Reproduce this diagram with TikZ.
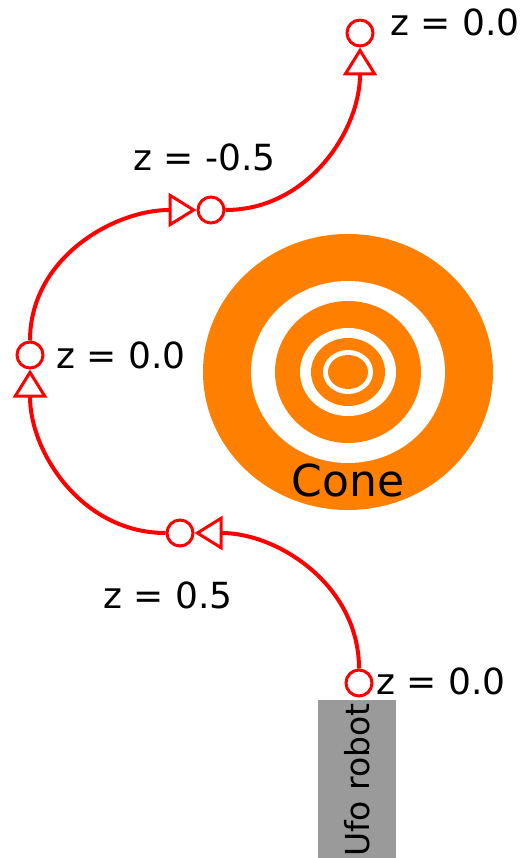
\documentclass[tikz,border=0pt]{standalone}
\usepackage{fontspec}
\setmainfont{DejaVu Sans}
\usetikzlibrary{arrows.meta}
\definecolor{conecol}{HTML}{FF7F00}
\definecolor{robotgray}{HTML}{9A9A9A}

\begin{document}
\begin{tikzpicture}[
  x=1pt, y=1pt,
  font=\fontsize{36}{40}\selectfont,
  wp/.style={draw=red, line width=3pt, circle, fill=white,
             minimum size=26pt, inner sep=0pt},
  zlabel/.style={anchor=west, inner sep=0pt},
  route/.style={draw=red, line width=4pt,
                -{Triangle[open, length=28pt, width=34pt, line width=3pt]}},
  robotbox/.style={fill=robotgray, minimum width=160pt, minimum height=78pt,
                   inner sep=0pt, font=\fontsize{33}{38}\selectfont},
]
\useasboundingbox (0,-858) rectangle (527,0);

% the cone, seen from above
\fill[conecol] (348,-372) ellipse [x radius=145pt, y radius=138pt];
\fill[white]   (348,-372) ellipse [x radius=97pt,  y radius=91pt];
\fill[conecol] (348,-372) ellipse [x radius=73pt,  y radius=71pt];
\fill[white]   (348,-372) ellipse [x radius=48pt,  y radius=44pt];
\fill[conecol] (348,-372) ellipse [x radius=37pt,  y radius=34pt];
\fill[white]   (348,-372) ellipse [x radius=25pt,  y radius=22pt];
\fill[conecol] (348,-372) ellipse [x radius=20pt,  y radius=17pt];
\node[font=\fontsize{44}{50}\selectfont, inner sep=0pt] (cone) at (348,-480) {Cone};

% robot
\node[robotbox, rotate=90] (robot) at (357,-780) {Ufo robot};

% waypoints
\node[wp] (c0) at (359,-683) {};
\node[wp] (c1) at (180,-533) {};
\node[wp] (c2) at (30,-355)  {};
\node[wp] (c3) at (211,-210) {};
\node[wp] (c4) at (360,-33)  {};

\node[zlabel] (z0) at (376,-681) {z = 0.0};
\node[zlabel] (z1) at (103,-595) {z = 0.5};
\node[zlabel] (z2) at (56,-355)  {z = 0.0};
\node[zlabel] (z3) at (133,-157) {z = -0.5};
\node[zlabel] (z4) at (390,-22)  {z = 0.0};

% path
\draw[route] (c0) to[out=90, in=0] (c1);
\draw[route] (c1) to[out=180, in=-90] (c2);
\draw[route] (c2) to[out=90, in=180] (c3);
\draw[route] (c3) to[out=0, in=-90] (c4);

\end{tikzpicture}
\end{document}
